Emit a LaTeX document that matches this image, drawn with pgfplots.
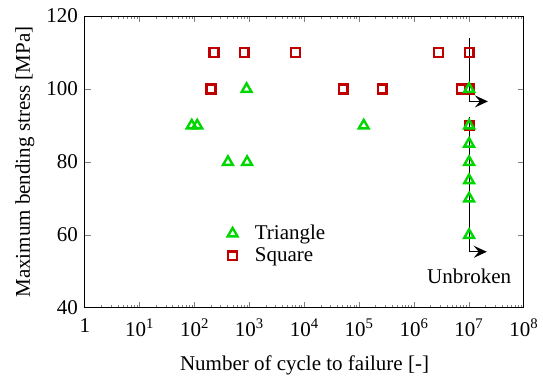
\documentclass[border=0pt]{standalone}
\usepackage{fontspec}
\setmainfont{Liberation Serif}
\usepackage{pgfplots}
\pgfplotsset{compat=1.18}
\usetikzlibrary{arrows.meta}
\definecolor{tgreen}{RGB}{0,215,0}
\definecolor{sred}{RGB}{192,0,0}
\begin{document}
\begin{tikzpicture}[font=\fontsize{10.5}{12.6}\selectfont]
\useasboundingbox (-42.5pt,-34pt) rectangle (229pt,154pt);
\begin{axis}[
  at={(0,0)}, anchor=south west,
  scale only axis, width=219.5pt, height=146pt,
  xmode=log, xmin=1, xmax=1e8, ymin=40, ymax=120,
  ytick={40,60,80,100,120},
  xtick={1,10,100,1000,1e4,1e5,1e6,1e7,1e8},
  xticklabels={1,10\textsuperscript{1},10\textsuperscript{2},10\textsuperscript{3},10\textsuperscript{4},10\textsuperscript{5},10\textsuperscript{6},10\textsuperscript{7},10\textsuperscript{8}},
  tick align=inside, major tick length=3pt, minor tick length=1.5pt,
  axis line style={line width=0.5pt},
  tick style={line width=0.5pt},
  /pgf/number format/assume math mode=true,
  tick label style={font=\fontsize{10.5}{12.6}\selectfont},
  xticklabel style={yshift=-2pt},
  label style={font=\fontsize{10.5}{12.6}\selectfont},
  xlabel={Number of cycle to failure [-]},
  ylabel={Maximum bending stress [MPa]},
  xlabel style={at={(axis description cs:0.5,-0.198)}, anchor=center},
  ylabel style={at={(axis description cs:-0.137,0.5)}, anchor=center},
  legend style={draw=none, fill=none, at={(axis cs:277,57.4)}, anchor=west, cells={anchor=west}, font=\fontsize{10.5}{12.6}\selectfont, row sep=-1.5pt},
  legend image code/.code={\path (-3pt,0pt) (8.5pt,0pt); \draw[#1] plot coordinates {(0pt,0pt)};},
  reverse legend,
]
\addplot[only marks, mark=square, mark size=2.2pt, sred, line width=1.2pt] coordinates {
  (224,110) (795,110) (6900,110) (2.77e6,110) (1e7,110)
  (197,100) (50700,100) (2.6e5,100) (7.3e6,100) (1e7,100)
  (1e7,90)
};
\addlegendentry{Square}
\addplot[only marks, mark=triangle, mark size=2.8pt, tgreen, line width=1.2pt] coordinates {
  (88,90) (111,90) (1.2e5,90) (881,100) (403,80) (900,80)
  (1e7,100) (1e7,90) (1e7,85) (1e7,80) (1e7,75) (1e7,70) (1e7,60)
};
\addlegendentry{Triangle}
\addplot[black, line width=0.6pt, forget plot] coordinates {(1e7,114) (1e7,96.6)};
\addplot[black, line width=0.6pt, -{Stealth[length=6.5pt,width=6pt,inset=2.5pt]}, forget plot] coordinates {(1e7,96.6) (2.2e7,96.6)};
\addplot[black, line width=0.6pt, forget plot] coordinates {(1e7,92.4) (1e7,55.4)};
\addplot[black, line width=0.6pt, -{Stealth[length=6.5pt,width=6pt,inset=2.5pt]}, forget plot] coordinates {(1e7,55.4) (2.1e7,55.4)};
\node at (axis cs:1e7,48.6) {Unbroken};
\end{axis}
\end{tikzpicture}
\end{document}
